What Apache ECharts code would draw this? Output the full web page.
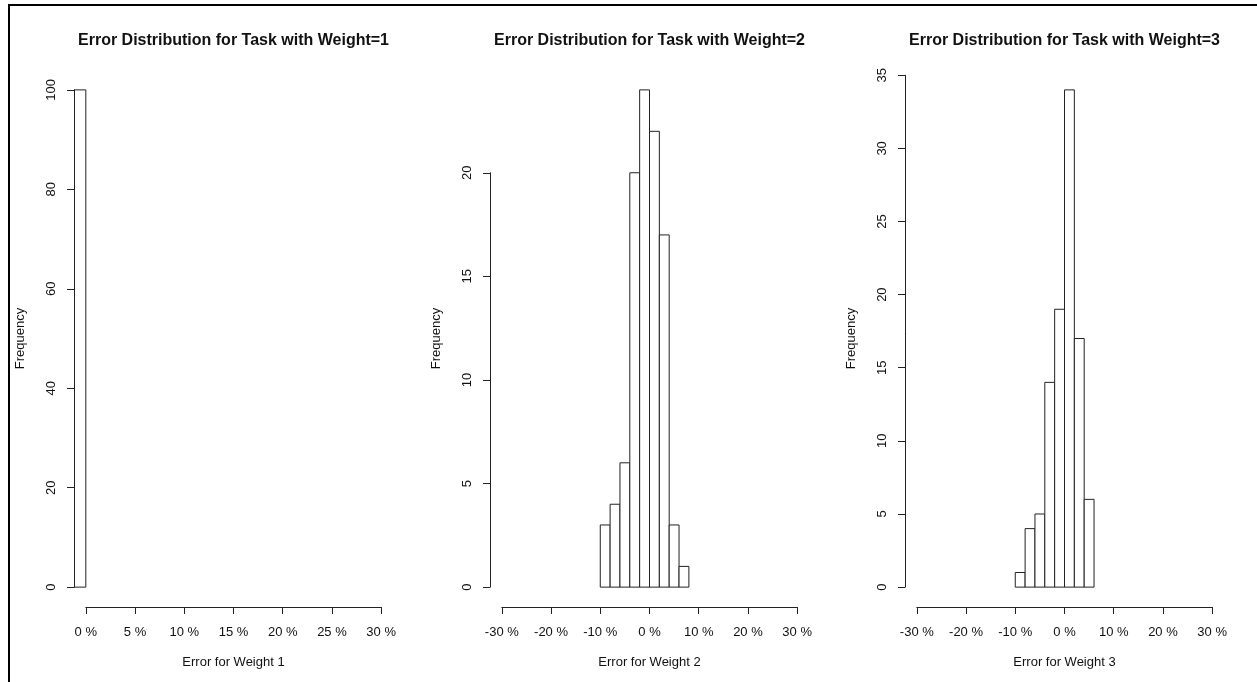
<!DOCTYPE html>
<html>
<head>
<meta charset="utf-8">
<script src="https://cdn.jsdelivr.net/npm/echarts@6/dist/echarts.min.js"></script>
<style>
  html, body { margin: 0; padding: 0; background: #fff; }
  #chart { width: 1257px; height: 682px; }
</style>
</head>
<body>
<div id="chart"></div>
<script>
// Histogram bins (error in %) and counts for each weight
const binEdges1 = [-2, 0];
const counts1 = [100];
const binEdges2 = [-10, -8, -6, -4, -2, 0, 2, 4, 6, 8];
const counts2 = [3, 4, 6, 20, 24, 22, 17, 3, 1];
const binEdges3 = [-10, -8, -6, -4, -2, 0, 2, 4, 6];
const counts3 = [1, 4, 5, 14, 19, 34, 17, 6];

// Axis tick values
const xTicks1 = [0, 5, 10, 15, 20, 25, 30];
const xTicks2 = [-30, -20, -10, 0, 10, 20, 30];
const xTicks3 = [-30, -20, -10, 0, 10, 20, 30];
const yTicks1 = [0, 20, 40, 60, 80, 100];
const yTicks2 = [0, 5, 10, 15, 20];
const yTicks3 = [0, 5, 10, 15, 20, 25, 30, 35];

// Texts
const titles = [
  'Error Distribution for Task with Weight=1',
  'Error Distribution for Task with Weight=2',
  'Error Distribution for Task with Weight=3'
];
const xNames = ['Error for Weight 1', 'Error for Weight 2', 'Error for Weight 3'];
const yName = 'Frequency';

const panels = [
  { edges: binEdges1, counts: counts1, xTicks: xTicks1, yTicks: yTicks1 },
  { edges: binEdges2, counts: counts2, xTicks: xTicks2, yTicks: yTicks2 },
  { edges: binEdges3, counts: counts3, xTicks: xTicks3, yTicks: yTicks3 }
];

// Plot regions (pixels)
const plotLefts = [74, 490, 905];
const plotWidth = 319;
const plotTop = 70;
const plotHeight = 537;

const FONT = '"Liberation Sans", Arial, sans-serif';
const INK = '#111';
const LINE = '#222';

const grid = [], xAxis = [], yAxis = [], series = [], title = [];

panels.forEach((p, i) => {
  const L = plotLefts[i], T = plotTop, W = plotWidth, H = plotHeight;
  // R-style 4% range extension
  const xt0 = p.xTicks[0], xt1 = p.xTicks[p.xTicks.length - 1];
  const xpad = (xt1 - xt0) * 0.04;
  const ux0 = xt0 - xpad, ux1 = xt1 + xpad;
  const cmax = Math.max(...p.counts);
  const uy0 = -0.04 * cmax, uy1 = 1.04 * cmax;
  const yt0 = p.yTicks[0], yt1 = p.yTicks[p.yTicks.length - 1];
  const xStep = p.xTicks[1] - p.xTicks[0];
  const yStep = p.yTicks[1] - p.yTicks[0];

  const g = grid.length;
  // plot region
  grid.push({ left: L, top: T, width: W, height: H });
  // x axis strip: spans first..last tick
  grid.push({
    left: L + (xt0 - ux0) / (ux1 - ux0) * W,
    width: (xt1 - xt0) / (ux1 - ux0) * W,
    top: T + H - 1, height: 1
  });
  // y axis strip: spans first..last tick
  grid.push({
    left: L, width: 1,
    top: T + (uy1 - yt1) / (uy1 - uy0) * H,
    height: (yt1 - yt0) / (uy1 - uy0) * H
  });

  const hidden = { axisLine: { show: false }, axisTick: { show: false },
                   axisLabel: { show: false }, splitLine: { show: false } };

  // plot region axes (names only)
  xAxis.push(Object.assign({
    gridIndex: g, type: 'value', min: ux0, max: ux1,
    name: xNames[i], nameLocation: 'middle', nameGap: 49,
    nameTextStyle: { fontFamily: FONT, fontSize: 13, color: INK }
  }, hidden));
  yAxis.push(Object.assign({
    gridIndex: g, type: 'value', min: uy0, max: uy1,
    name: yName, nameLocation: 'middle', nameRotate: 90, nameGap: 47,
    nameTextStyle: { fontFamily: FONT, fontSize: 13, color: INK }
  }, hidden));

  // x axis strip
  xAxis.push({
    gridIndex: g + 1, type: 'value', min: xt0, max: xt1, interval: xStep, z: 5,
    axisLine: { show: true, lineStyle: { color: LINE, width: 1 } },
    axisTick: { show: true, length: 7, lineStyle: { color: LINE, width: 1 } },
    axisLabel: { show: true, margin: 19, fontFamily: FONT, fontSize: 13, color: INK,
                 formatter: v => v + ' %' },
    splitLine: { show: false }
  });
  yAxis.push({ gridIndex: g + 1, type: 'value', show: false, min: 0, max: 1 });

  // y axis strip
  xAxis.push({ gridIndex: g + 2, type: 'value', show: false, min: 0, max: 1 });
  yAxis.push({
    gridIndex: g + 2, type: 'value', min: yt0, max: yt1, interval: yStep, z: 5,
    axisLine: { show: true, lineStyle: { color: LINE, width: 1 } },
    axisTick: { show: true, length: 7, lineStyle: { color: LINE, width: 1 } },
    axisLabel: { show: true, rotate: 90, margin: 16, fontFamily: FONT, fontSize: 13, color: INK },
    splitLine: { show: false }
  });

  // histogram bars
  const data = p.counts.map((c, k) => [p.edges[k], p.edges[k + 1], c]);
  series.push({
    type: 'custom',
    xAxisIndex: g, yAxisIndex: g,
    clip: true,
    silent: true,
    z: 2,
    data: data,
    renderItem: (params, api) => {
      const a = api.coord([api.value(0), api.value(2)]);
      const b = api.coord([api.value(1), 0]);
      return {
        type: 'rect',
        shape: { x: a[0], y: a[1], width: b[0] - a[0], height: b[1] - a[1] },
        style: { fill: '#fff', stroke: LINE, lineWidth: 1 }
      };
    }
  });

  title.push({
    text: titles[i],
    left: L + W / 2, top: 33, textAlign: 'center', padding: 0,
    textStyle: { fontFamily: FONT, fontSize: 16, fontWeight: 'bold', color: INK }
  });
});

const chart = echarts.init(document.getElementById('chart'), null, { renderer: 'canvas' });
chart.setOption({
  animation: false,
  backgroundColor: '#fff',
  title, grid, xAxis, yAxis, series,
  graphic: [{
    type: 'polyline',
    shape: { points: [[9, 682], [9, 5], [1257, 5]] },
    style: { stroke: '#000', lineWidth: 2, fill: null }
  }]
});
</script>
</body>
</html>
